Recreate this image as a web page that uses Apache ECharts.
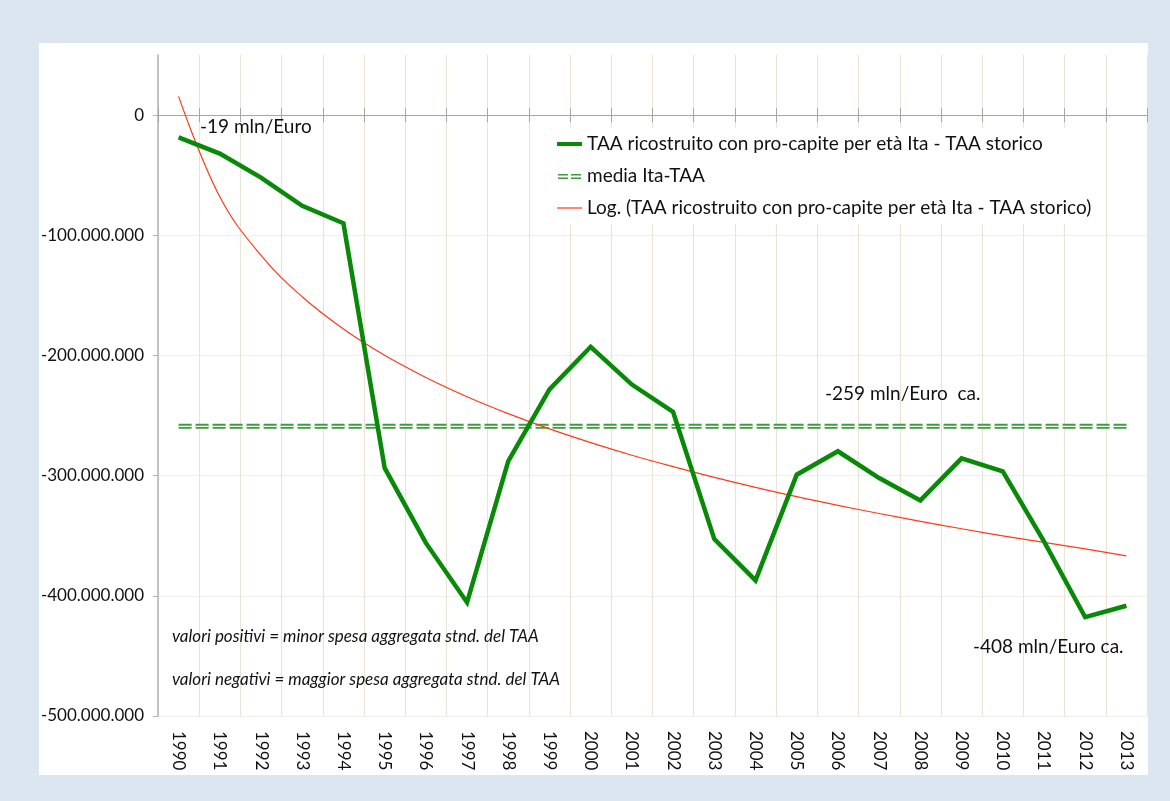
<!DOCTYPE html>
<html>
<head>
<meta charset="utf-8">
<title>TAA ricostruito - TAA storico</title>
<script src="https://cdn.jsdelivr.net/npm/echarts@6/dist/echarts.min.js"></script>
<style>
  html, body { margin: 0; padding: 0; background: #dce6f0; }
  #panel { position: absolute; left: 39px; top: 43px; width: 1109px; height: 732px; background: #fff; }
  #mybox { position: absolute; left: 0; top: 0; width: 1170px; height: 801px; }
</style>
</head>
<body>
<div id="panel"></div>
<div id="mybox"></div>
<script>
// anni
var anni = ['1990','1991','1992','1993','1994','1995','1996','1997','1998','1999','2000','2001',
            '2002','2003','2004','2005','2006','2007','2008','2009','2010','2011','2012','2013'];

// TAA ricostruito con pro-capite per età Ita - TAA storico (euro)
var differenza = [-18500000, -32000000, -52000000, -75500000, -90000000, -293600000, -356000000, -405500000,
                  -288000000, -228300000, -192800000, -224200000, -247000000, -352800000, -387200000, -299200000,
                  -279700000, -302000000, -320600000, -285600000, -296400000, -354700000, -417800000, -408300000];

// media Ita-TAA
var media = -259000000;

// linea di tendenza logaritmica
var tendenzaLog = [15600000, -68000000, -116800000, -151200000, -178000000, -199900000, -218300000, -234300000,
                   -248400000, -261100000, -272500000, -283000000, -292500000, -301400000, -309700000, -317500000,
                   -324700000, -331500000, -338000000, -344200000, -350100000, -355600000, -360900000, -366700000];

// tacche asse y
var tickY = [0, -100000000, -200000000, -300000000, -400000000, -500000000];

var nomeSerie = 'TAA ricostruito con pro-capite per età Ita - TAA storico';
var font = 'Lato, "Open Sans", sans-serif';

function formatta(v) {
    var s = Math.abs(v).toString().replace(/\B(?=(\d{3})+(?!\d))/g, '.');
    return (v < 0 ? '-' : '') + s;
}

var mycharts = echarts.init(document.getElementById('mybox'));

var optionObj = {
    backgroundColor: 'transparent',
    textStyle: { fontFamily: font },
    animation: false,
    grid: { left: 158, right: 23, top: 55, bottom: 85 },
    legend: {
        orient: 'vertical',
        left: 548,
        top: 128,
        backgroundColor: '#fff',
        padding: [6, 10, 6, 7],
        itemWidth: 25,
        itemHeight: 14,
        itemGap: 12,
        itemStyle: { opacity: 0 },
        textStyle: { fontSize: 19, color: '#111', lineHeight: 20, fontFamily: font },
        data: [
            { name: nomeSerie, lineStyle: { width: 4 } },
            { name: 'media Ita-TAA', itemStyle: { opacity: 1 },
              icon: 'path://M0,0L0.01,0M0,5H10V6.6H0ZM13,5H23V6.6H13ZM0,8.4H10V10H0ZM13,8.4H23V10H13ZM0,14L0.01,14' },
            { name: 'Log. (' + nomeSerie + ')', lineStyle: { width: 1.2 } }
        ]
    },
    xAxis: [
        {
            type: 'category',
            data: anni,
            position: 'bottom',
            axisLine: { show: false, onZero: false },
            axisTick: { show: false },
            axisLabel: { rotate: -90, interval: 0, fontSize: 17, color: '#111', margin: 15 },
            splitLine: { show: true, interval: 0, lineStyle: { color: '#e9e5d6', width: 1.2 } }
        },
        {
            type: 'category',
            data: anni,
            position: 'bottom',
            axisLine: { show: true, onZero: true, onZeroAxisIndex: 0, lineStyle: { color: '#a6a6a6', width: 1.2 } },
            axisTick: { show: true, length: 7, lineStyle: { color: '#a6a6a6' } },
            axisLabel: { show: false },
            splitLine: { show: false }
        },
        {
            type: 'category',
            data: anni,
            position: 'top',
            axisLine: { show: true, onZero: true, onZeroAxisIndex: 0, lineStyle: { color: '#a6a6a6', width: 1.2 } },
            axisTick: { show: true, length: 7, lineStyle: { color: '#a6a6a6' } },
            axisLabel: { show: false },
            splitLine: { show: false }
        }
    ],
    yAxis: {
        type: 'value',
        min: -500000000,
        max: 50000000,
        interval: 100000000,
        axisLine: { show: true, lineStyle: { color: '#b3b3b3', width: 1.5 } },
        axisTick: { show: true, length: 5, customValues: tickY, lineStyle: { color: '#b3b3b3' } },
        axisLabel: { customValues: tickY, formatter: formatta, fontSize: 17, color: '#111', margin: 14 },
        splitLine: { show: true, lineStyle: { color: '#f2f0e6', width: 1.2 } }
    },
    series: [
        {
            name: 'media Ita-TAA',
            type: 'line',
            symbol: 'none',
            color: '#3a9e3a',
            data: anni.map(function () { return media; }),
            lineStyle: { color: '#3a9e3a', width: 5, type: [13, 4] },
            z: 2
        },
        {
            name: 'media-bianco',
            type: 'line',
            symbol: 'none',
            data: anni.map(function () { return media; }),
            lineStyle: { color: '#fff', width: 1.4, type: [13, 4] },
            z: 3,
            silent: true
        },
        {
            name: 'Log. (' + nomeSerie + ')',
            type: 'line',
            symbol: 'none',
            smooth: 0.4,
            color: '#ff3b1a',
            data: tendenzaLog,
            lineStyle: { color: '#ff3b1a', width: 1.2 },
            z: 4
        },
        {
            name: nomeSerie,
            type: 'line',
            symbol: 'none',
            color: '#088a08',
            data: differenza,
            lineStyle: { color: '#088a08', width: 4.5, join: 'miter' },
            z: 5
        }
    ],
    graphic: [
        { type: 'text', z: 100, left: 200, top: 117, style: { text: '-19 mln/Euro', font: '19px ' + font, fill: '#111' } },
        { type: 'text', z: 100, left: 825, top: 384, style: { text: '-259 mln/Euro  ca.', font: '19px ' + font, fill: '#111' } },
        { type: 'text', z: 100, left: 973, top: 637, style: { text: '-408 mln/Euro ca.', font: '19px ' + font, fill: '#111' } },
        { type: 'text', z: 100, left: 172, top: 628, style: { text: 'valori positivi = minor spesa aggregata stnd. del TAA', font: 'italic 17px ' + font, fill: '#111' } },
        { type: 'text', z: 100, left: 172, top: 671, style: { text: 'valori negativi = maggior spesa aggregata stnd. del TAA', font: 'italic 17px ' + font, fill: '#111' } }
    ]
};

mycharts.setOption(optionObj);
</script>
</body>
</html>
